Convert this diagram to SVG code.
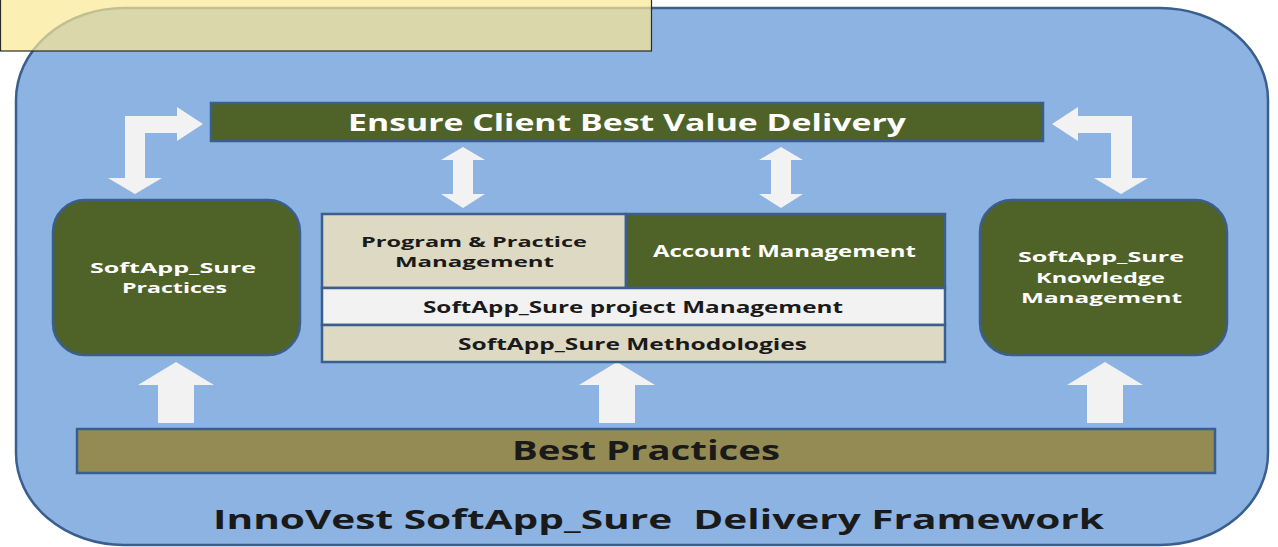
<svg xmlns="http://www.w3.org/2000/svg" width="1278" height="547" viewBox="0 0 1278 547">
<defs>
<style>
.frame{fill:#8db3e2;stroke:#3a5f8f;stroke-width:2.5}
.dark{fill:#4f6228;stroke:#3a5f8f;stroke-width:2.5}
.tan{fill:#ddd9c3;stroke:#3a5f8f;stroke-width:2.5}
.light{fill:#f2f2f2;stroke:#3a5f8f;stroke-width:2.5}
.olive{fill:#948a54;stroke:#3a5f8f;stroke-width:2.5}
.arrow{fill:#f2f2f2;stroke:none}
text{font-family:"Open Sans","DejaVu Sans",sans-serif;font-weight:bold}
.w{fill:#ffffff}
.k{fill:#1a1a1a}
</style>
</defs>
<g id="frame">
<rect class="frame" x="16" y="8" width="1252" height="537" rx="108" ry="92"/>
</g>
<g id="connectors">
<path class="arrow" d="M125,116 L177,116 L177,107 L203,124 L177,141 L177,133 L145,133 L145,178 L162,178 L135,194 L108,178 L125,178 Z"/>
<path class="arrow" d="M1132,116 L1078,116 L1078,107 L1052,124 L1078,141 L1078,133 L1111,133 L1111,178 L1094,178 L1121,194 L1148,178 L1132,178 Z"/>
<path class="arrow" d="M463,147 L485,160 L473,160 L473,194 L485,194 L463,208 L441,194 L453,194 L453,160 L441,160 Z"/>
<path class="arrow" d="M781,147 L803,160 L791,160 L791,194 L803,194 L781,208 L759,194 L771,194 L771,160 L759,160 Z"/>
<path class="arrow" d="M176,362 L214,385 L194,385 L194,423 L158,423 L158,385 L138,385 Z"/>
<path class="arrow" d="M617,362 L655,385 L635,385 L635,423 L599,423 L599,385 L579,385 Z"/>
<path class="arrow" d="M1105,362 L1143,385 L1123,385 L1123,423 L1087,423 L1087,385 L1067,385 Z"/>
</g>
<g id="node-client-value">
<rect class="dark" x="211" y="103" width="832" height="38"/>
<text class="w" x="348" y="131" font-size="23" textLength="558" lengthAdjust="spacingAndGlyphs">Ensure Client Best Value Delivery</text>
</g>
<g id="node-practices">
<rect class="dark" x="53" y="200" width="247" height="155" rx="32" ry="32"/>
<text class="w" x="90" y="273" font-size="15" textLength="166" lengthAdjust="spacingAndGlyphs">SoftApp_Sure</text>
<text class="w" x="122" y="293" font-size="15" textLength="105" lengthAdjust="spacingAndGlyphs">Practices</text>
</g>
<g id="node-program">
<rect class="tan" x="322" y="214" width="304" height="74"/>
<text class="k" x="361" y="247" font-size="15" textLength="226" lengthAdjust="spacingAndGlyphs">Program &amp; Practice</text>
<text class="k" x="395" y="267" font-size="15" textLength="159" lengthAdjust="spacingAndGlyphs">Management</text>
</g>
<g id="node-account">
<rect class="dark" x="626" y="214" width="319" height="74"/>
<text class="w" x="653" y="257" font-size="16" textLength="263" lengthAdjust="spacingAndGlyphs">Account Management</text>
</g>
<g id="node-project">
<rect class="light" x="322" y="288" width="623" height="37"/>
<text class="k" x="423" y="313" font-size="15.5" textLength="420" lengthAdjust="spacingAndGlyphs">SoftApp_Sure project Management</text>
</g>
<g id="node-methodologies">
<rect class="tan" x="322" y="325" width="623" height="37"/>
<text class="k" x="458" y="350" font-size="15.5" textLength="349" lengthAdjust="spacingAndGlyphs">SoftApp_Sure Methodologies</text>
</g>
<g id="node-knowledge">
<rect class="dark" x="980" y="200" width="247" height="155" rx="32" ry="32"/>
<text class="w" x="1018" y="262" font-size="15" textLength="166" lengthAdjust="spacingAndGlyphs">SoftApp_Sure</text>
<text class="w" x="1036" y="283" font-size="15" textLength="129" lengthAdjust="spacingAndGlyphs">Knowledge</text>
<text class="w" x="1021" y="303" font-size="15" textLength="161" lengthAdjust="spacingAndGlyphs">Management</text>
</g>
<g id="node-best-practices">
<rect class="olive" x="77" y="429" width="1138" height="44"/>
<text class="k" x="512" y="460" font-size="26" textLength="268" lengthAdjust="spacingAndGlyphs">Best Practices</text>
</g>
<g id="title">
<text class="k" x="213" y="529" font-size="26" textLength="891" lengthAdjust="spacingAndGlyphs" style="white-space:pre">InnoVest SoftApp_Sure  Delivery Framework</text>
</g>
<g id="note-box">
<rect x="0.5" y="-1" width="651" height="52" fill="#fbe894" fill-opacity="0.7" stroke="#2b2b2b" stroke-width="1.2"/>
</g>
</svg>
